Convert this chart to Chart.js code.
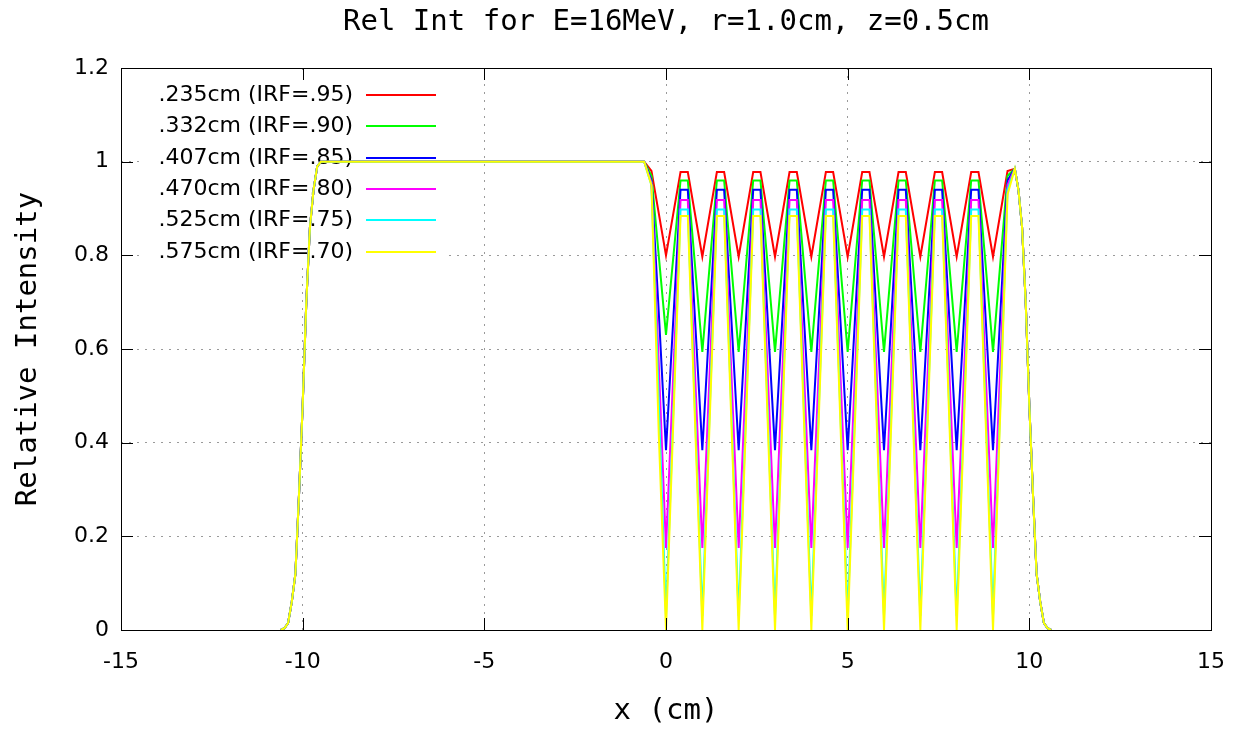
<!DOCTYPE html>
<html>
<head>
<meta charset="utf-8">
<script src="https://cdn.jsdelivr.net/npm/chart.js@4"></script>
<style>
html,body{margin:0;padding:0;background:#fff;}
canvas{display:block;}
</style>
</head>
<body>
<canvas id="c" width="1237" height="730"></canvas>
<script>
const chartTitle = 'Rel Int for E=16MeV, r=1.0cm, z=0.5cm';
const xAxisTitle = 'x (cm)';
const yAxisTitle = 'Relative Intensity';
const xTickLabels = ['-15', '-10', '-5', '0', '5', '10', '15'];
const yTickLabels = ['0', '0.2', '0.4', '0.6', '0.8', '1', '1.2'];

const seriesLabels = [
  '.235cm (IRF=.95)',
  '.332cm (IRF=.90)',
  '.407cm (IRF=.85)',
  '.470cm (IRF=.80)',
  '.525cm (IRF=.75)',
  '.575cm (IRF=.70)'
];
const seriesColors = ['#ff0000', '#00ff00', '#0000ff', '#ff00ff', '#00ffff', '#ffff00'];

// Left field edge (identical for all series)
const xRise = [-10.6, -10.5, -10.4, -10.3, -10.2, -10.1, -10.0, -9.9, -9.8, -9.7, -9.6, -9.5];
const yRise = [0, 0.004, 0.015, 0.06, 0.12, 0.29, 0.48, 0.70, 0.86, 0.94, 0.99, 1.0];

// Strip region (differs per series)
const xMid = [-0.6, -0.4, -0.2, 0,
  0.4, 0.6, 1, 1.4, 1.6, 2, 2.4, 2.6, 3, 3.4, 3.6, 4, 4.4, 4.6, 5,
  5.4, 5.6, 6, 6.4, 6.6, 7, 7.4, 7.6, 8, 8.4, 8.6, 9, 9.4, 9.6];

const yRed = [1.0, 0.98, 0.89, 0.80,
  0.978, 0.978, 0.797, 0.978, 0.978, 0.797, 0.978, 0.978, 0.797,
  0.978, 0.978, 0.797, 0.978, 0.978, 0.797, 0.978, 0.978, 0.797,
  0.978, 0.978, 0.797, 0.978, 0.978, 0.797, 0.978, 0.978, 0.797,
  0.98, 0.985];
const yGreen = [1.0, 0.97, 0.80, 0.63,
  0.960, 0.960, 0.594, 0.960, 0.960, 0.594, 0.960, 0.960, 0.594,
  0.960, 0.960, 0.594, 0.960, 0.960, 0.594, 0.960, 0.960, 0.594,
  0.960, 0.960, 0.594, 0.960, 0.960, 0.594, 0.960, 0.960, 0.594,
  0.97, 0.985];
const yBlue = [1.0, 0.96, 0.68, 0.384,
  0.940, 0.940, 0.384, 0.940, 0.940, 0.384, 0.940, 0.940, 0.384,
  0.940, 0.940, 0.384, 0.940, 0.940, 0.384, 0.940, 0.940, 0.384,
  0.940, 0.940, 0.384, 0.940, 0.940, 0.384, 0.940, 0.940, 0.384,
  0.96, 0.985];
const yMagenta = [1.0, 0.955, 0.57, 0.175,
  0.918, 0.918, 0.175, 0.918, 0.918, 0.175, 0.918, 0.918, 0.175,
  0.918, 0.918, 0.175, 0.918, 0.918, 0.175, 0.918, 0.918, 0.175,
  0.918, 0.918, 0.175, 0.918, 0.918, 0.175, 0.918, 0.918, 0.175,
  0.95, 0.985];
const yCyan = [1.0, 0.95, 0.49, 0.03,
  0.898, 0.898, 0.03, 0.898, 0.898, 0.03, 0.898, 0.898, 0.03,
  0.898, 0.898, 0.03, 0.898, 0.898, 0.03, 0.898, 0.898, 0.03,
  0.898, 0.898, 0.03, 0.898, 0.898, 0.03, 0.898, 0.898, 0.03,
  0.94, 0.985];
const yYellow = [1.0, 0.95, 0.42, 0.0,
  0.884, 0.884, 0.0, 0.884, 0.884, 0.0, 0.884, 0.884, 0.0,
  0.884, 0.884, 0.0, 0.884, 0.884, 0.0, 0.884, 0.884, 0.0,
  0.884, 0.884, 0.0, 0.884, 0.884, 0.0, 0.884, 0.884, 0.0,
  0.93, 0.985];

// Right field edge (identical for all series)
const xFall = [9.7, 9.8, 9.9, 10.0, 10.1, 10.2, 10.3, 10.4, 10.5, 10.6];
const yFall = [0.94, 0.86, 0.70, 0.48, 0.29, 0.12, 0.06, 0.015, 0.004, 0];

const seriesMid = [yRed, yGreen, yBlue, yMagenta, yCyan, yYellow];

function buildPoints(mid) {
  const xs = xRise.concat(xMid, xFall);
  const ys = yRise.concat(mid, yFall);
  return xs.map((x, i) => ({ x: x, y: ys[i] }));
}

const datasets = seriesMid.map((mid, i) => ({
  label: seriesLabels[i],
  data: buildPoints(mid),
  borderColor: seriesColors[i],
  backgroundColor: seriesColors[i],
  borderWidth: 2,
  pointRadius: 0,
  tension: 0,
  fill: false,
  order: seriesMid.length - 1 - i
}));

const LEGEND_FONT = '22px "DejaVu Sans"';
const MONO_FONT = '29px "DejaVu Sans Mono"';

const decor = {
  id: 'decor',
  beforeDatasetsDraw(chart) {
    const { ctx, chartArea: a } = chart;
    ctx.save();
    ctx.fillStyle = '#ffffff';
    ctx.fillRect(a.left + 20, a.top + 8, 305, 192);
    ctx.font = LEGEND_FONT;
    ctx.textAlign = 'right';
    ctx.textBaseline = 'middle';
    chart.data.datasets.forEach((ds, i) => {
      const y = Math.round(a.top + 27 + i * 31.3);
      ctx.fillStyle = '#000000';
      ctx.fillText(ds.label, a.left + 232, y);
      ctx.strokeStyle = ds.borderColor;
      ctx.lineWidth = 2;
      ctx.beginPath();
      ctx.moveTo(a.left + 245, y);
      ctx.lineTo(a.left + 315, y);
      ctx.stroke();
    });
    ctx.restore();
  },
  afterDatasetsDraw(chart) {
    const { ctx, chartArea: a, scales } = chart;
    ctx.save();
    ctx.strokeStyle = '#000000';
    ctx.lineWidth = 1;
    ctx.strokeRect(Math.round(a.left) + 0.5, Math.round(a.top) + 0.5,
      Math.round(a.right - a.left), Math.round(a.bottom - a.top));
    const tl = 12;
    ctx.beginPath();
    scales.x.ticks.forEach(t => {
      const px = Math.round(scales.x.getPixelForValue(t.value)) + 0.5;
      ctx.moveTo(px, a.bottom); ctx.lineTo(px, a.bottom - tl);
      ctx.moveTo(px, a.top); ctx.lineTo(px, a.top + tl);
    });
    scales.y.ticks.forEach(t => {
      const py = Math.round(scales.y.getPixelForValue(t.value)) + 0.5;
      ctx.moveTo(a.left, py); ctx.lineTo(a.left + tl, py);
      ctx.moveTo(a.right, py); ctx.lineTo(a.right - tl, py);
    });
    ctx.stroke();
    ctx.restore();
  },
  afterDraw(chart) {
    const { ctx, chartArea: a } = chart;
    ctx.save();
    ctx.fillStyle = '#000000';
    ctx.font = MONO_FONT;
    ctx.textAlign = 'center';
    ctx.textBaseline = 'middle';
    const cx = (a.left + a.right) / 2;
    ctx.fillText(chartTitle, cx, 22);
    ctx.fillText(xAxisTitle, cx, 711);
    ctx.translate(28, (a.top + a.bottom) / 2);
    ctx.rotate(-Math.PI / 2);
    ctx.fillText(yAxisTitle, 0, 0);
    ctx.restore();
  }
};

new Chart(document.getElementById('c'), {
  type: 'line',
  data: { datasets: datasets },
  options: {
    responsive: false,
    animation: false,
    events: [],
    layout: { padding: { top: 68, right: 26, left: 0, bottom: 0 } },
    plugins: {
      legend: { display: false },
      tooltip: { enabled: false },
      title: { display: false }
    },
    scales: {
      x: {
        type: 'linear',
        min: -15,
        max: 15,
        afterFit(scale) { scale.height = 100; },
        ticks: {
          stepSize: 5,
          padding: 10,
          color: '#000000',
          font: { family: 'DejaVu Sans', size: 22, lineHeight: 2.0 },
          maxRotation: 0,
          callback: (v, i) => xTickLabels[i]
        },
        grid: { color: '#9a9a9a', lineWidth: 1, drawTicks: false },
        border: { display: false, dash: [2, 6] }
      },
      y: {
        type: 'linear',
        min: 0,
        max: 1.2,
        afterFit(scale) { scale.width = 121; },
        ticks: {
          stepSize: 0.2,
          padding: 12,
          color: '#000000',
          font: { family: 'DejaVu Sans', size: 22 },
          callback: (v, i) => yTickLabels[i]
        },
        grid: { color: '#9a9a9a', lineWidth: 1, drawTicks: false },
        border: { display: false, dash: [2, 6] }
      }
    }
  },
  plugins: [decor]
});
</script>
</body>
</html>
